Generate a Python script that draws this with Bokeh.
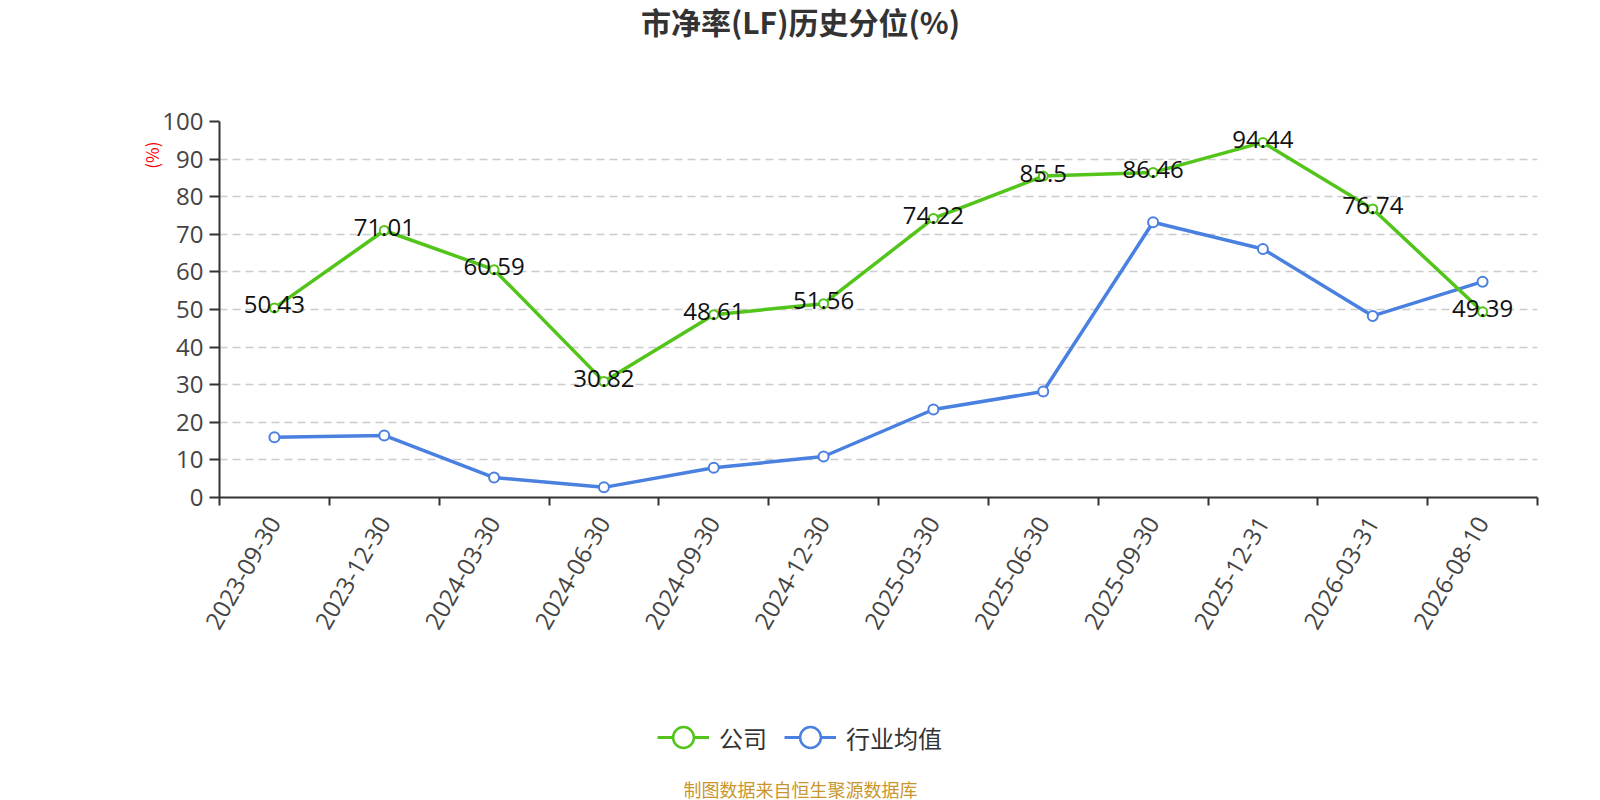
import math
from bokeh.plotting import figure
from bokeh.layouts import column
from bokeh.models import (Range1d, FixedTicker, Legend, LegendItem, Label, Title,
                          ColumnDataSource)
from bokeh.core.properties import value
from bokeh.embed import file_html
from bokeh.resources import INLINE

# ---- data ----
dates = ["2023-09-30", "2023-12-30", "2024-03-30", "2024-06-30", "2024-09-30",
         "2024-12-30", "2025-03-30", "2025-06-30", "2025-09-30", "2025-12-31",
         "2026-03-31", "2026-08-10"]
company = [50.43, 71.01, 60.59, 30.82, 48.61, 51.56, 74.22, 85.5, 86.46, 94.44, 76.74, 49.39]
industry = [16.0, 16.5, 5.3, 2.7, 7.9, 10.9, 23.4, 28.2, 73.2, 66.1, 48.3, 57.4]
y_ticks = [0, 10, 20, 30, 40, 50, 60, 70, 80, 90, 100]
series_names = ["公司", "行业均值"]
title_text = "市净率(LF)历史分位(%)"
y_name = "(%)"
footer_text = "制图数据来自恒生聚源数据库"

CJK = "Noto Sans CJK SC"
NUM = "Open Sans"
GREEN = "#52c41a"
BLUE = "#4a80e0"
W = 1584
BL = 219   # frame left
BR = 47    # frame right border


def blank(h):
    f = figure(width=W, height=h, output_backend="svg", toolbar_location=None,
               x_axis_type=None, y_axis_type=None,
               x_range=Range1d(0, 1), y_range=Range1d(0, 1),
               min_border_left=BL, min_border_right=BR,
               min_border_top=0, min_border_bottom=0)
    f.outline_line_color = None
    f.xgrid.visible = False
    f.ygrid.visible = False
    return f


# ---------- top: title ----------
top = blank(101)
top.add_layout(Label(x=800 - BL, y=81, x_units="screen", y_units="screen",
                     text=title_text, text_align="center", text_baseline="middle",
                     text_font=CJK, text_font_size="30px", text_font_style="bold",
                     text_color="#333333"))

# ---------- main chart ----------
n = len(dates)
xs = [i + 0.5 for i in range(n)]
src = ColumnDataSource(dict(x=xs, company=company, industry=industry,
                            clabel=[("%g" % v) for v in company]))

p = figure(width=W, height=540, output_backend="svg", toolbar_location=None,
           x_range=Range1d(0, n), y_range=Range1d(0, 100),
           min_border_left=BL, min_border_right=BR, min_border_top=20,
           min_border_bottom=144)
p.outline_line_color = None

xa = p.xaxis[0]
xa.ticker = FixedTicker(ticks=xs, minor_ticks=list(range(n + 1)))
xa.major_label_overrides = {x: d for x, d in zip(xs, dates)}
xa.major_label_orientation = math.pi / 3
xa.major_tick_line_color = None
xa.major_tick_out = 0
xa.major_tick_in = 0
xa.minor_tick_out = 8
xa.minor_tick_in = 0
xa.minor_tick_line_color = "#333333"
xa.minor_tick_line_width = 2
xa.axis_line_color = "#333333"
xa.axis_line_width = 2
xa.major_label_text_font = NUM
xa.major_label_text_font_size = "24px"
xa.major_label_text_color = "#444444"
xa.major_label_standoff = 13

ya = p.yaxis[0]
ya.ticker = FixedTicker(ticks=y_ticks)
ya.axis_line_color = "#333333"
ya.axis_line_width = 2
ya.major_tick_out = 10
ya.major_tick_in = 0
ya.major_tick_line_color = "#333333"
ya.major_tick_line_width = 2
ya.minor_tick_line_color = None
ya.major_label_text_font = NUM
ya.major_label_text_font_size = "24px"
ya.major_label_text_color = "#444444"
ya.major_label_standoff = 6

ytitle = Title(text=y_name, align="right", offset=20, standoff=-8,
               text_font=CJK, text_font_size="17px", text_font_style="normal",
               text_color="#ff0000")
p.add_layout(ytitle, "left")

p.xgrid.visible = False
p.ygrid.ticker = FixedTicker(ticks=y_ticks)
p.ygrid.grid_line_color = "#cccccc"
p.ygrid.grid_line_dash = "8 5"
p.ygrid.grid_line_width = 1.5

p.line("x", "industry", source=src, line_color=BLUE, line_width=3.5)
p.scatter("x", "industry", source=src, size=10, fill_color="white",
          line_color=BLUE, line_width=2)
p.line("x", "company", source=src, line_color=GREEN, line_width=3.5)
p.scatter("x", "company", source=src, size=9, fill_color="white",
          line_color=GREEN, line_width=2)
p.text("x", "company", text="clabel", source=src, text_align="center",
       text_baseline="middle", y_offset=-3, text_color="#111111",
       text_font=value(NUM), text_font_size="24px")

# ---------- bottom: legend + source note ----------
bot = blank(159)
# legend proxies: same data, lying outside this strip's 0..1 ranges
lg1 = bot.line("x", "company", source=src, line_color=GREEN, line_width=3)
sg1 = bot.scatter("x", "company", source=src, size=25, fill_color="white",
                  line_color=GREEN, line_width=2.5)
lg2 = bot.line("x", "industry", source=src, line_color=BLUE, line_width=3)
sg2 = bot.scatter("x", "industry", source=src, size=25, fill_color="white",
                  line_color=BLUE, line_width=2.5)
legend = Legend(items=[LegendItem(label=series_names[0], renderers=[lg1, sg1]),
                       LegendItem(label=series_names[1], renderers=[lg2, sg2])],
                orientation="horizontal", location=(657 - BL, 33),
                glyph_width=52, glyph_height=60, label_standoff=10, spacing=17,
                padding=0, margin=0, border_line_color=None,
                background_fill_alpha=0,
                label_text_font=CJK, label_text_font_size="24px",
                label_text_color="#333333")
bot.add_layout(legend)
bot.add_layout(Label(x=800 - BL, y=12, x_units="screen", y_units="screen",
                     text=footer_text, text_align="center", text_baseline="middle",
                     text_font=CJK, text_font_size="18px", text_color="#c9962e"))

layout = column(top, p, bot, spacing=0)
open("out.html", "w").write(file_html(layout, INLINE))
